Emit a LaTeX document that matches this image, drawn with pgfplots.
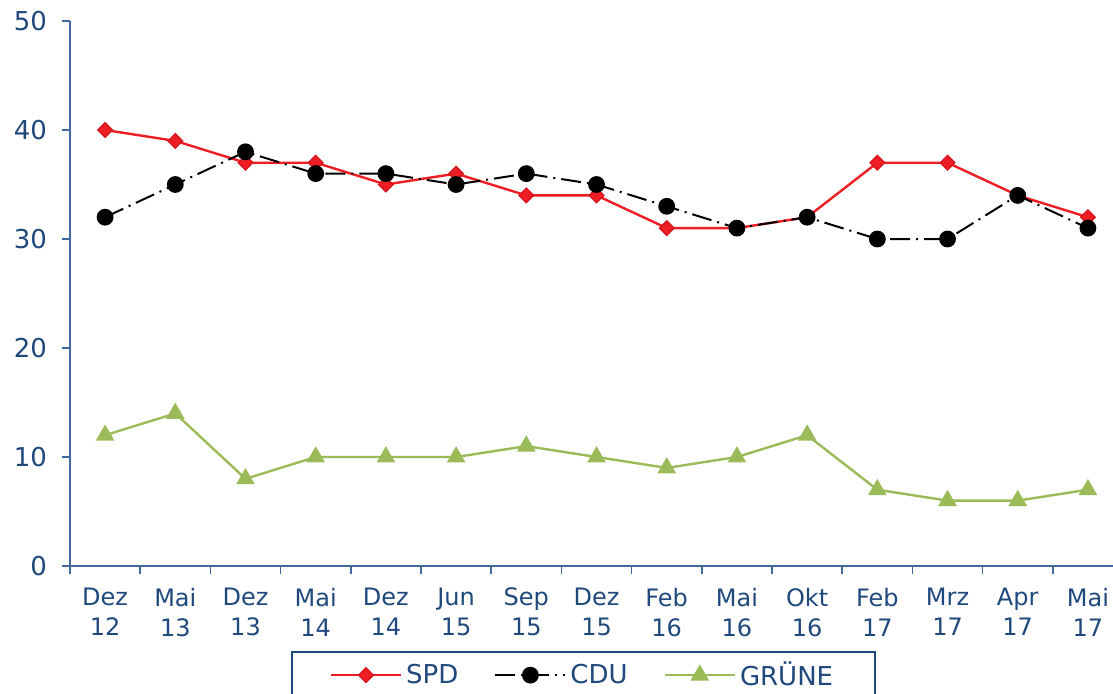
\documentclass[border=0pt]{standalone}
\usepackage{pgfplots}
\pgfplotsset{compat=1.18}
\usepackage{fontspec}
\setmainfont{DejaVu Sans}
\definecolor{txt}{RGB}{31,73,125}
\definecolor{axc}{RGB}{65,105,160}
\definecolor{spd}{RGB}{237,30,36}
\definecolor{spdd}{RGB}{215,20,28}
\definecolor{gr}{RGB}{155,187,89}
\begin{document}
\begin{tikzpicture}
\begin{axis}[
  at={(0,0)}, anchor=south west,
  scale only axis, width=521.5pt, height=272.5pt,
  xmin=-0.5, xmax=14.357, ymin=0, ymax=50,
  axis lines*=left,
  axis line style={axc, line width=0.75pt},
  clip=false,
  ytick={0,10,...,50},
  xtick={-0.5,0.5,...,13.5},
  xticklabels={},
  extra x ticks={0,1,...,14},
  extra x tick labels={{Dez\\12},{Mai\\13},{Dez\\13},{Mai\\14},{Dez\\14},{Jun\\15},{Sep\\15},{Dez\\15},{Feb\\16},{Mai\\16},{Okt\\16},{Feb\\17},{Mrz\\17},{Apr\\17},{Mai\\17}},
  extra x tick style={major tick length=0pt, tick style={draw=none}},
  tick align=outside,
  major tick length=4pt,
  tick style={axc, line width=0.75pt},
  xticklabel style={align=center, font=\fontsize{12}{15}\selectfont, text=txt, yshift=-7.5pt},
  yticklabel style={font=\fontsize{13}{15}\selectfont, text=txt, xshift=-4pt},
  /pgf/number format/assume math mode=true,
  legend columns=3,
  legend style={at={(0.4923,-0.156)}, anchor=north, draw=txt, line width=0.75pt,
    font=\fontsize{13}{15}\selectfont, text=txt, inner xsep=19pt, inner ysep=3pt,
    /tikz/every even column/.append style={column sep=16pt}},
  legend image code/.code={\draw[mark repeat=2,mark phase=2] plot coordinates {(0pt,0pt) (17.5pt,0pt) (35pt,0pt)};},
]
\addplot[spd, line width=1.2pt, mark=square*, mark size=2.6pt, mark options={solid, rotate=45, fill=spd, draw=spdd, line width=0.6pt}]
coordinates {(0,40) (1,39) (2,37) (3,37) (4,35) (5,36) (6,34) (7,34) (8,31) (9,31) (10,32) (11,37) (12,37) (13,34) (14,32)};
\addlegendentry{SPD}
\addplot[black, line width=1pt, dash pattern=on 10pt off 3pt on 1pt off 3pt, mark=*, mark size=3.7pt, mark options={solid, fill=black}]
coordinates {(0,32) (1,35) (2,38) (3,36) (4,36) (5,35) (6,36) (7,35) (8,33) (9,31) (10,32) (11,30) (12,30) (13,34) (14,31)};
\addlegendentry{CDU}
\addplot[gr, line width=1.2pt, mark=triangle*, mark size=4.2pt, mark options={solid, fill=gr, draw=gr}]
coordinates {(0,12) (1,14) (2,8) (3,10) (4,10) (5,10) (6,11) (7,10) (8,9) (9,10) (10,12) (11,7) (12,6) (13,6) (14,7)};
\addlegendentry{GRÜNE}
\end{axis}
\pgfresetboundingbox
\useasboundingbox (-35pt,-63.5pt) rectangle (521.5pt,283pt);
\end{tikzpicture}
\end{document}
